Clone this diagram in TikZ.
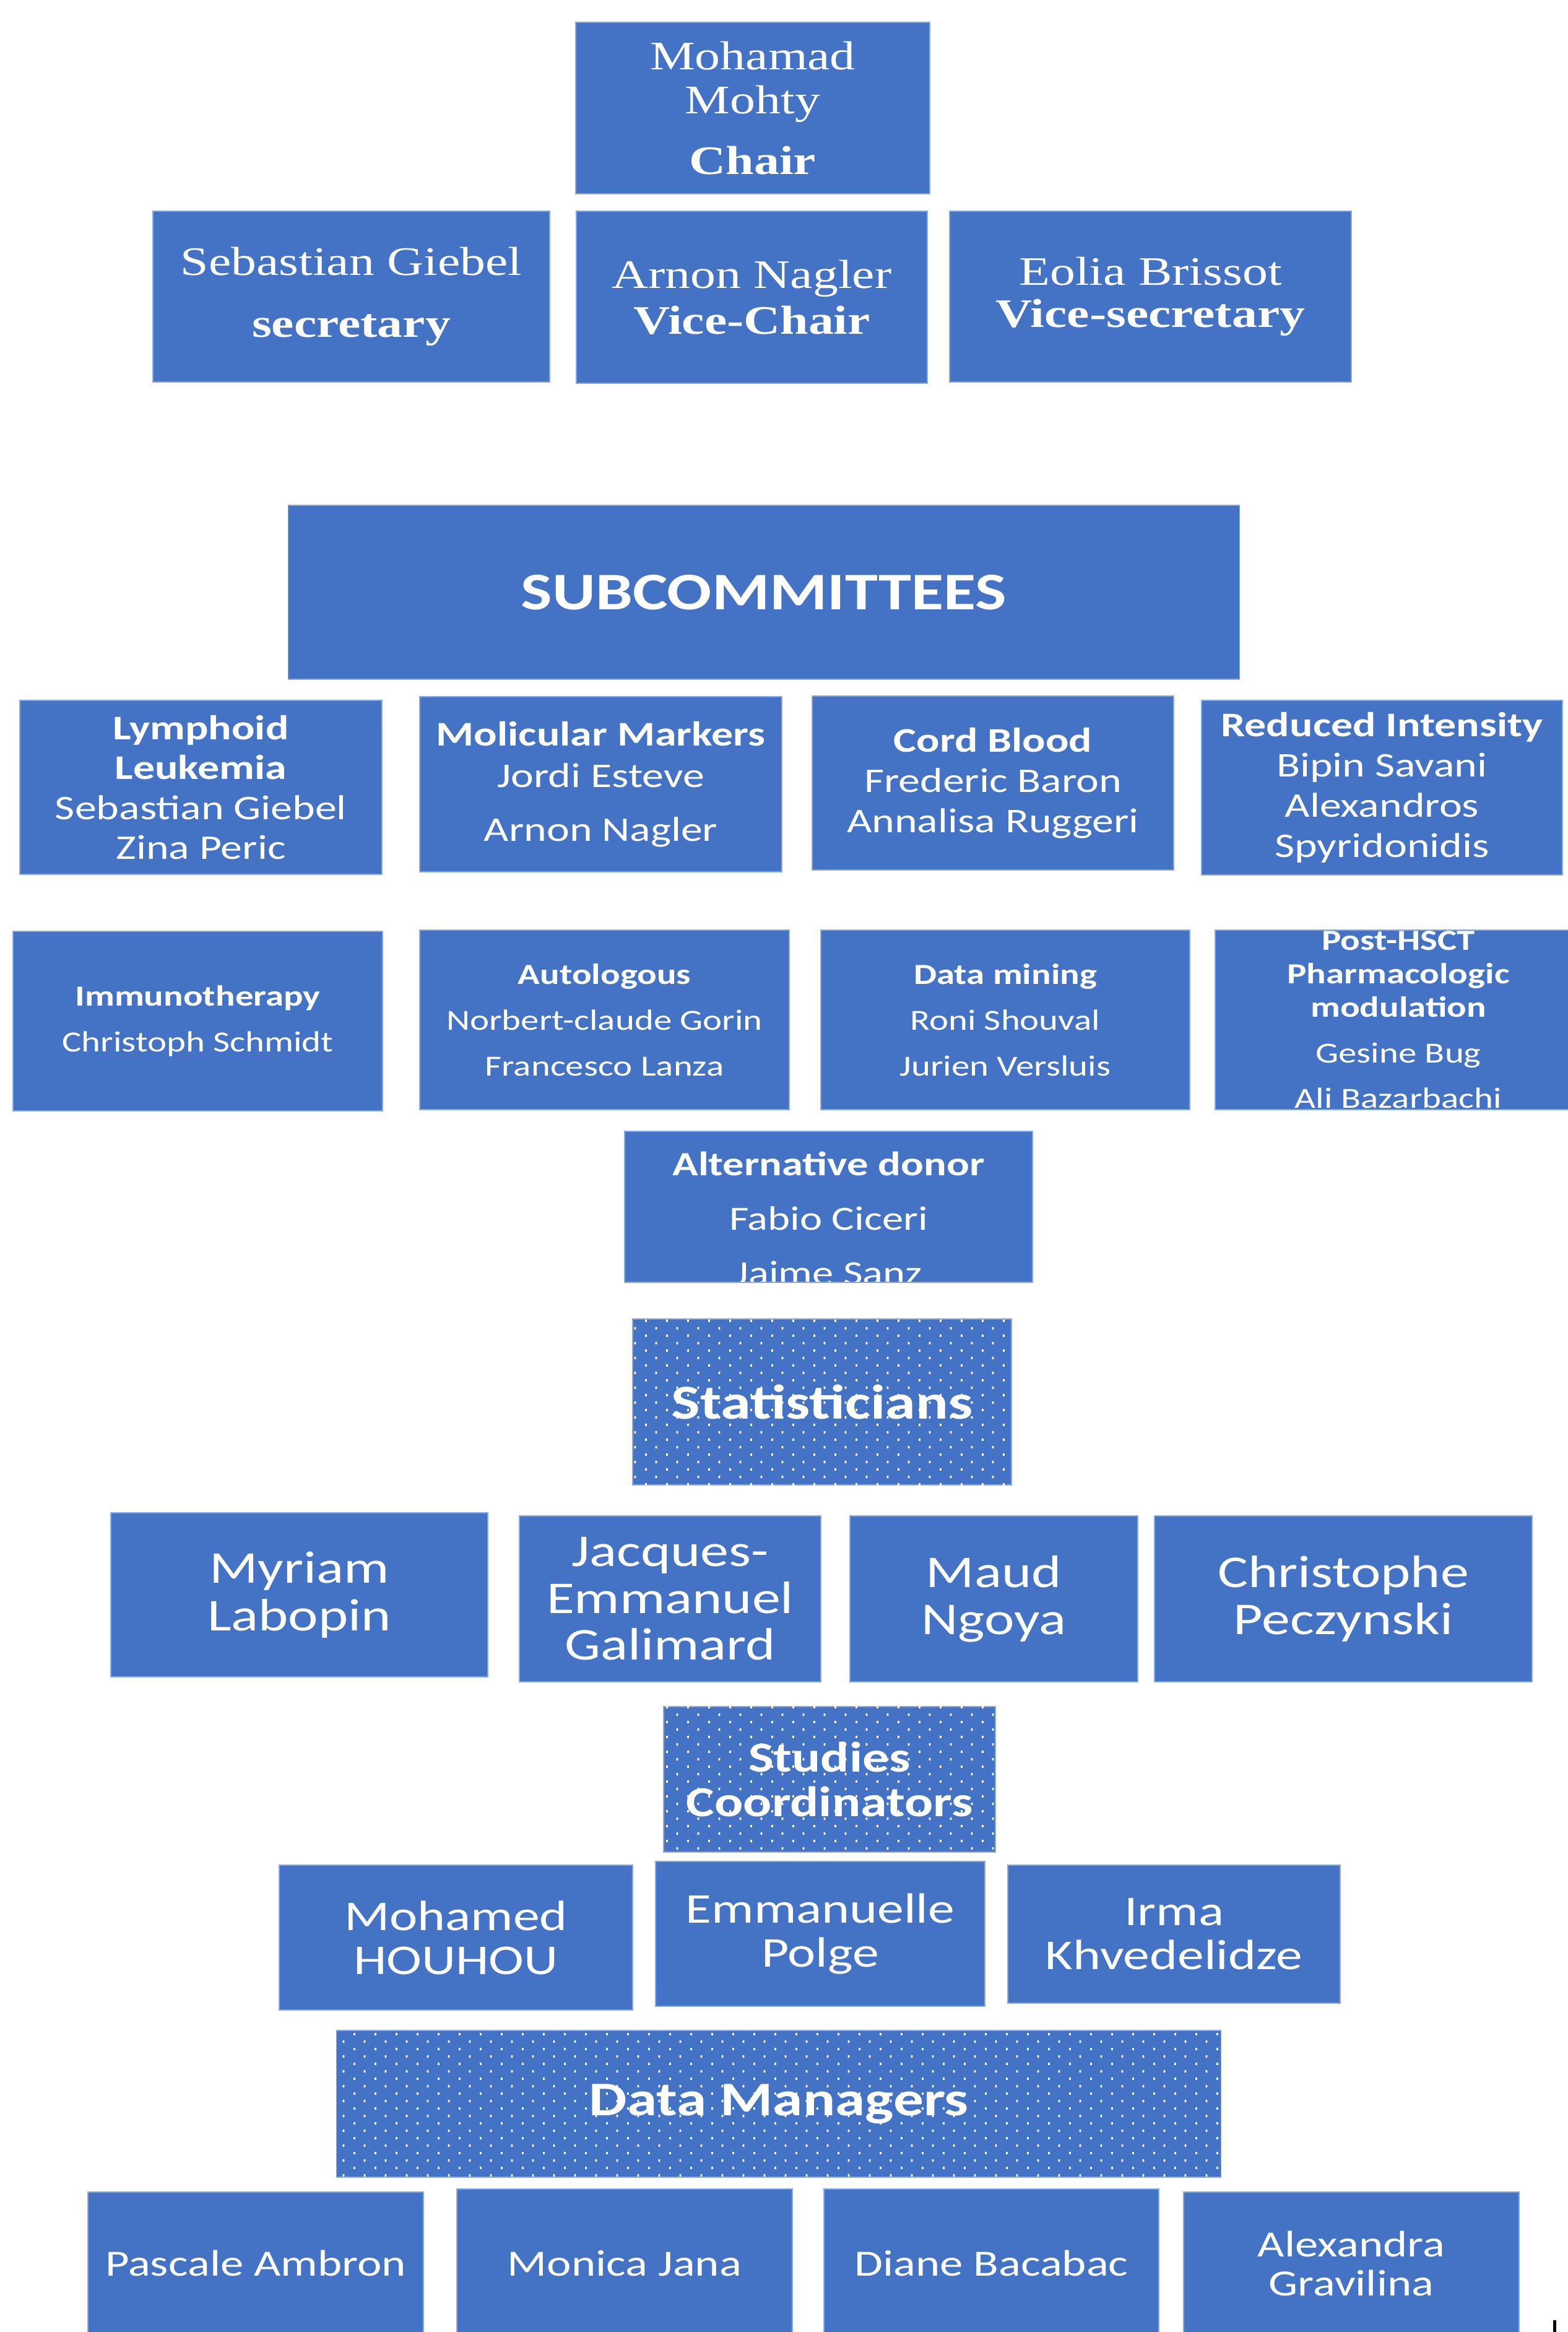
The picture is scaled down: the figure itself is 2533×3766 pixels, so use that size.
\documentclass[tikz,border=0pt]{standalone}
\usepackage{fontspec}
\usetikzlibrary{patterns.meta}
\newfontfamily\boxfont[FakeStretch=1.25]{Carlito}
\newfontfamily\titlefont[FakeStretch=1.25]{Liberation Serif}
\definecolor{boxblue}{HTML}{4472C4}
\definecolor{edgeblue}{HTML}{8EA9DB}
\tikzdeclarepattern{
  name=whitedots, type=uncolored,
  bounding box={(0pt,0pt) and (9.56pt,6.82pt)},
  tile size={(9.56pt,6.82pt)},
  code={
    \fill (0pt,0pt) rectangle (0.8pt,1.1pt);
    \fill (4.78pt,3.41pt) rectangle (5.58pt,4.51pt);
  }
}
\tikzset{
  box/.style={rectangle, fill=boxblue, draw=edgeblue, line width=0.5pt, text=white, inner sep=0pt, align=center},
  dotbox/.style={box, postaction={pattern=whitedots, pattern color=white}},
  board/.style={box, font=\titlefont\fontsize{18.6}{20.2}\selectfont},
}

\begin{document}
\begin{tikzpicture}[x=0.01cm, y=-0.01cm]
	%%%%% START %%%%%
	\useasboundingbox (0,0) rectangle (2533,3766);
	\clip (0,0) rectangle (2533,3766);
	
	% board
	\node[board, minimum width=5.72cm, minimum height=2.77cm] (chair) at (1216,174.5)
		{Mohamad\\Mohty\\[7.7pt]\textbf{Chair}};
	\node[board, minimum width=6.41cm, minimum height=2.76cm] (secretary) at (567.5,479)
		{Sebastian Giebel\\[8.2pt]\textbf{secretary}};
	\node[board, minimum width=5.67cm, minimum height=2.78cm] (vicechair) at (1214.5,480)
		{Arnon Nagler\\[0.8pt]\textbf{Vice-Chair}};
	\node[board, minimum width=6.49cm, minimum height=2.76cm] (vicesecretary) at (1858.5,479)
		{Eolia Brissot\\[-0.9pt]\textbf{Vice-secretary}};
	
	% subcommittees
	\node[box, minimum width=15.36cm, minimum height=2.81cm, font=\boxfont\bfseries\fontsize{24.3}{28}\selectfont] (subcom) at (1234,956.5)
		{SUBCOMMITTEES};
	
	\node[box, minimum width=5.85cm, minimum height=2.81cm, font=\boxfont\fontsize{15.9}{18.3}\selectfont] (lymphoid) at (324.5,1271.5)
		{\textbf{Lymphoid}\\\textbf{Leukemia}\\Sebastian Giebel\\Zina Peric};
	\node[box, minimum width=5.85cm, minimum height=2.83cm, font=\boxfont\fontsize{15.9}{18.5}\selectfont] (markers) at (970.5,1266.5)
		{\textbf{Molicular Markers}\\[0.5pt]Jordi Esteve\\[6.3pt]Arnon Nagler};
	\node[box, minimum width=5.84cm, minimum height=2.81cm, font=\boxfont\fontsize{15.9}{18.5}\selectfont] (cordblood) at (1604,1264.5)
		{\textbf{Cord Blood}\\Frederic Baron\\Annalisa Ruggeri};
	\node[box, minimum width=5.83cm, minimum height=2.82cm, font=\boxfont\fontsize{15.9}{18.5}\selectfont] (reduced) at (2232.5,1272)
		{\textbf{Reduced Intensity}\\Bipin Savani\\Alexandros\\Spyridonidis};
	
	\node[box, minimum width=5.97cm, minimum height=2.90cm, font=\boxfont\fontsize{13.4}{21}\selectfont] (immuno) at (319.5,1649)
		{\textbf{Immunotherapy}\\Christoph Schmidt};
	\node[box, minimum width=5.97cm, minimum height=2.90cm, font=\boxfont\fontsize{13.4}{21}\selectfont] (autologous) at (976.5,1647)
		{\textbf{Autologous}\\Norbert-claude Gorin\\Francesco Lanza};
	\node[box, minimum width=5.96cm, minimum height=2.90cm, font=\boxfont\fontsize{13.4}{21}\selectfont] (datamining) at (1624,1647)
		{\textbf{Data mining}\\Roni Shouval\\Jurien Versluis};
	\node[box, minimum width=5.92cm, minimum height=2.90cm, font=\boxfont\fontsize{13.4}{15.3}\selectfont] (posthsct) at (2259,1647)
		{\textbf{Post-HSCT}\\\textbf{Pharmacologic}\\\textbf{modulation}\\[5.6pt]Gesine Bug\\[5.6pt]Ali Bazarbachi};
	
	\node[box, minimum width=6.59cm, minimum height=2.44cm,
		path picture={\node[text=white, align=center, font=\boxfont\fontsize{15.6}{25}\selectfont]
			at ([yshift=-0.185cm]path picture bounding box.center)
			{\textbf{Alternative donor}\\Fabio Ciceri\\Jaime Sanz};}] (altdonor) at (1338.5,1949) {};
	
	% statisticians
	\node[dotbox, minimum width=6.12cm, minimum height=2.68cm, font=\boxfont\bfseries\fontsize{22.4}{26}\selectfont] (statistics) at (1328,2264)
		{Statisticians};
	
	\node[box, minimum width=6.09cm, minimum height=2.65cm, font=\boxfont\fontsize{20.9}{21.9}\selectfont] (labopin) at (483.5,2575.5)
		{Myriam\\Labopin};
	\node[box, minimum width=4.87cm, minimum height=2.68cm, font=\boxfont\fontsize{20.9}{21.5}\selectfont] (galimard) at (1082.5,2582)
		{Jacques-\\Emmanuel\\Galimard};
	\node[box, minimum width=4.65cm, minimum height=2.68cm, font=\boxfont\fontsize{20.9}{21.7}\selectfont] (ngoya) at (1605.5,2582)
		{Maud\\Ngoya};
	\node[box, minimum width=6.10cm, minimum height=2.68cm, font=\boxfont\fontsize{20.9}{21.7}\selectfont] (peczynski) at (2170,2582)
		{Christophe\\Peczynski};
	
	% studies coordinators
	\node[dotbox, minimum width=5.36cm, minimum height=2.35cm, font=\boxfont\bfseries\fontsize{19.6}{20.5}\selectfont] (coordinators) at (1340,2873.5)
		{Studies\\Coordinators};
	
	\node[box, minimum width=5.71cm, minimum height=2.34cm, font=\boxfont\fontsize{19.5}{20.2}\selectfont] (houhou) at (736.5,3129)
		{Mohamed\\HOUHOU};
	\node[box, minimum width=5.32cm, minimum height=2.34cm, font=\boxfont\fontsize{19.5}{20.2}\selectfont] (polge) at (1325,3123)
		{Emmanuelle\\Polge};
	\node[box, minimum width=5.37cm, minimum height=2.23cm, font=\boxfont\fontsize{19.5}{20.2}\selectfont] (khvedelidze) at (1896.5,3123.5)
		{Irma\\Khvedelidze};
	
	% data managers
	\node[dotbox, minimum width=14.28cm, minimum height=2.37cm, font=\boxfont\bfseries\fontsize{22.2}{26}\selectfont] (datamanagers) at (1258,3397.5)
		{Data Managers};
	
	\node[box, minimum width=5.42cm, minimum height=2.30cm, font=\boxfont\fontsize{17}{17.9}\selectfont] (ambron) at (413,3655)
		{Pascale Ambron};
	\node[box, minimum width=5.42cm, minimum height=2.40cm, font=\boxfont\fontsize{17}{17.9}\selectfont] (jana) at (1009,3655)
		{Monica Jana};
	\node[box, minimum width=5.41cm, minimum height=2.40cm, font=\boxfont\fontsize{17}{17.9}\selectfont] (bacabac) at (1601.5,3655)
		{Diane Bacabac};
	\node[box, minimum width=5.42cm, minimum height=2.30cm, font=\boxfont\fontsize{17}{17.9}\selectfont] (gravilina) at (2183,3655)
		{Alexandra\\Gravilina};
	
	\fill[black] (2509,3747) rectangle (2514,3766);
	%%%%% END %%%%%
\end{tikzpicture}
\end{document}
